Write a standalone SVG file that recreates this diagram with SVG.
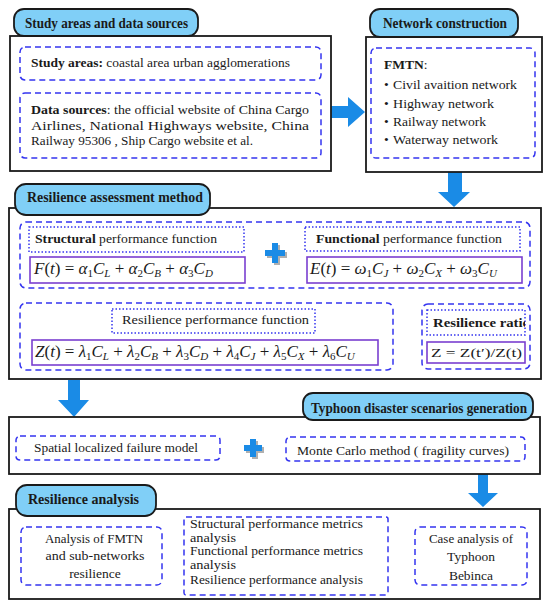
<svg xmlns="http://www.w3.org/2000/svg" width="550" height="609" viewBox="0 0 550 609">
<defs>
<style>
.box{fill:#fff;stroke:#1a1a1a;stroke-width:1.8}
.tab{fill:#80cff7;stroke:#1a1a1a;stroke-width:1.8}
.dash{fill:#fff;stroke:#3535f0;stroke-width:1.5;stroke-dasharray:6 4}
.dot{fill:#fff;stroke:#3535f0;stroke-width:1.5;stroke-dasharray:1.5 2}
.frm{fill:#fff;stroke:#7a3fd0;stroke-width:1.6}
.arr{fill:#1a8be6}
.plus{fill:#1a8be6}
.plush{fill:#b0b0b0}
text{font-family:"Liberation Serif","DejaVu Serif",serif;fill:#1a1a1a}
.t{font-size:13.5px}
.tm{font-size:12px}
.h{font-size:14px;font-weight:bold}
.b{font-weight:bold}
.m{font-size:17px}
.i{font-style:italic}
.s{font-size:11px}
</style>
<clipPath id="clipRatio"><rect x="427" y="310" width="98" height="25"/></clipPath>
</defs>

<g id="connectors">
<polygon class="arr" points="331,106 348,106 348,97 365,112 348,127 348,118 331,118"/>
<polygon class="arr" points="448,172 462,172 462,192 470,192 454,207 438,192 448,192"/>
<polygon class="arr" points="202,289 209,289 209,294 214,294 205,302 196,294 202,294"/>
<polygon class="arr" points="399,332 410,332 410,327 420,336.5 410,346 410,341 399,341"/>
<polygon class="arr" points="68,380 80,380 80,400 89,400 74,417 58,400 68,400"/>
<polygon class="arr" points="478,474 488,474 488,493 498,493 483,507 468,493 478,493"/>
<polygon class="arr" points="162,552 172,552 172,546 182,556 172,566 172,560 162,560"/>
<polygon class="arr" points="417,551 405,551 405,546 395,555.5 405,565 405,560 417,560"/>
</g>

<g id="study-areas-data-sources">
<rect class="box" x="10" y="36" width="321" height="135"/>
<rect class="tab" x="14" y="9" width="184" height="27" rx="10"/>
<text class="h" x="25" y="28" textLength="163" lengthAdjust="spacingAndGlyphs">Study areas and data sources</text>
<rect class="dash" x="20" y="47" width="301" height="33" rx="5"/>
<text class="t" x="31" y="67" textLength="259" lengthAdjust="spacingAndGlyphs"><tspan class="b">Study areas:</tspan> coastal area urban agglomerations</text>
<rect class="dash" x="20" y="93" width="301" height="65" rx="5"/>
<text class="t" x="31" y="114" textLength="278" lengthAdjust="spacingAndGlyphs"><tspan class="b">Data sources</tspan>: the official website of China Cargo</text>
<text class="t" x="31" y="130" textLength="278" lengthAdjust="spacingAndGlyphs">Airlines, National Highways website, China</text>
<text class="t" x="31" y="145" textLength="222" lengthAdjust="spacingAndGlyphs">Railway 95306 , Ship Cargo website et al.</text>
</g>

<g id="network-construction">
<rect class="box" x="366" y="37" width="176" height="135"/>
<rect class="tab" x="370" y="9" width="148" height="28" rx="10"/>
<text class="h" x="383" y="28" textLength="124" lengthAdjust="spacingAndGlyphs">Network construction</text>
<rect class="dash" x="371" y="48" width="164" height="110" rx="5"/>
<text class="t" x="384" y="69"><tspan class="b">FMTN</tspan>:</text>
<text class="t" x="384" y="89">•</text>
<text class="t" x="393" y="89" textLength="124" lengthAdjust="spacingAndGlyphs">Civil avaition network</text>
<text class="t" x="384" y="108">•</text>
<text class="t" x="393" y="108" textLength="101" lengthAdjust="spacingAndGlyphs">Highway network</text>
<text class="t" x="384" y="126">•</text>
<text class="t" x="393" y="126" textLength="93" lengthAdjust="spacingAndGlyphs">Railway network</text>
<text class="t" x="384" y="144">•</text>
<text class="t" x="393" y="144" textLength="105" lengthAdjust="spacingAndGlyphs">Waterway network</text>
</g>

<g id="resilience-assessment-method">
<rect class="box" x="9" y="208" width="532" height="171"/>
<rect class="tab" x="15" y="184" width="195" height="31" rx="11"/>
<text class="h" x="27" y="202" textLength="176" lengthAdjust="spacingAndGlyphs">Resilience assessment method</text>
</g>

<g id="structural-functional">
<rect class="dash" x="20" y="222" width="510" height="66" rx="6"/>
</g>

<g id="structural-performance">
<rect class="dot" x="29" y="227" width="215" height="25"/>
<text class="t" x="35" y="243" textLength="182" lengthAdjust="spacingAndGlyphs"><tspan class="b">Structural</tspan> performance function</text>
<rect class="frm" x="30" y="257" width="215" height="26"/>
<text class="m" x="34" y="274"><tspan class="i">F</tspan>(<tspan class="i">t</tspan>) = <tspan class="i">α</tspan><tspan class="s" dy="3">1</tspan><tspan class="i" dy="-3">C</tspan><tspan class="s i" dy="3">L</tspan><tspan dy="-3"> + </tspan><tspan class="i">α</tspan><tspan class="s" dy="3">2</tspan><tspan class="i" dy="-3">C</tspan><tspan class="s i" dy="3">B</tspan><tspan dy="-3"> + </tspan><tspan class="i">α</tspan><tspan class="s" dy="3">3</tspan><tspan class="i" dy="-3">C</tspan><tspan class="s i" dy="3">D</tspan></text>
</g>

<g id="plus-1">
<path class="plush" d="M267,252h7v-7h6v7h7v6h-7v7h-6v-7h-7z"/>
<path class="plus" d="M265,250h7v-7h6v7h7v6h-7v7h-6v-7h-7z"/>
</g>

<g id="functional-performance">
<rect class="dot" x="305" y="227" width="215" height="24"/>
<text class="t" x="316" y="243" textLength="186" lengthAdjust="spacingAndGlyphs"><tspan class="b">Functional</tspan> performance function</text>
<rect class="frm" x="307" y="257" width="215" height="26"/>
<text class="m" x="310" y="274"><tspan class="i">E</tspan>(<tspan class="i">t</tspan>) = <tspan class="i">ω</tspan><tspan class="s" dy="3">1</tspan><tspan class="i" dy="-3">C</tspan><tspan class="s i" dy="3">J</tspan><tspan dy="-3"> + </tspan><tspan class="i">ω</tspan><tspan class="s" dy="3">2</tspan><tspan class="i" dy="-3">C</tspan><tspan class="s i" dy="3">X</tspan><tspan dy="-3"> + </tspan><tspan class="i">ω</tspan><tspan class="s" dy="3">3</tspan><tspan class="i" dy="-3">C</tspan><tspan class="s i" dy="3">U</tspan></text>
</g>

<g id="resilience-performance">
<rect class="dash" x="20" y="303" width="373" height="67" rx="6"/>
<rect class="dot" x="112" y="309" width="203" height="24"/>
<text class="t" x="122" y="324" textLength="187" lengthAdjust="spacingAndGlyphs">Resilience performance function</text>
<rect class="frm" x="32" y="340" width="346" height="25"/>
<text class="m" x="35" y="357"><tspan class="i">Z</tspan>(<tspan class="i">t</tspan>) = <tspan class="i">λ</tspan><tspan class="s" dy="3">1</tspan><tspan class="i" dy="-3">C</tspan><tspan class="s i" dy="3">L</tspan><tspan dy="-3"> + </tspan><tspan class="i">λ</tspan><tspan class="s" dy="3">2</tspan><tspan class="i" dy="-3">C</tspan><tspan class="s i" dy="3">B</tspan><tspan dy="-3"> + </tspan><tspan class="i">λ</tspan><tspan class="s" dy="3">3</tspan><tspan class="i" dy="-3">C</tspan><tspan class="s i" dy="3">D</tspan><tspan dy="-3"> + </tspan><tspan class="i">λ</tspan><tspan class="s" dy="3">4</tspan><tspan class="i" dy="-3">C</tspan><tspan class="s i" dy="3">J</tspan><tspan dy="-3"> + </tspan><tspan class="i">λ</tspan><tspan class="s" dy="3">5</tspan><tspan class="i" dy="-3">C</tspan><tspan class="s i" dy="3">X</tspan><tspan dy="-3"> + </tspan><tspan class="i">λ</tspan><tspan class="s" dy="3">6</tspan><tspan class="i" dy="-3">C</tspan><tspan class="s i" dy="3">U</tspan></text>
</g>

<g id="resilience-ratio">
<rect class="dash" x="422" y="304" width="108" height="65" rx="6"/>
<rect class="dot" x="427" y="310" width="98" height="25"/>
<text class="t b" x="433" y="327" clip-path="url(#clipRatio)" textLength="97" lengthAdjust="spacingAndGlyphs">Resilience ratio</text>
<rect class="frm" x="427" y="342" width="98" height="21"/>
<text class="t" x="431" y="357" textLength="91" lengthAdjust="spacingAndGlyphs">Z = Z(t′)/Z(t)</text>
</g>

<g id="typhoon-scenarios">
<rect class="box" x="9" y="417" width="531" height="57"/>
<rect class="tab" x="303" y="393" width="230" height="27" rx="10"/>
<text class="h" x="311" y="413" textLength="216" lengthAdjust="spacingAndGlyphs">Typhoon disaster scenarios generation</text>
</g>

<g id="spatial-failure-model">
<rect class="dash" x="16" y="436" width="204" height="24" rx="4"/>
<text class="t" x="34" y="452" textLength="164" lengthAdjust="spacingAndGlyphs">Spatial localized failure model</text>
</g>

<g id="plus-2">
<path class="plush" d="M246,447h6v-6h6v6h6v6h-6v6h-6v-6h-6z"/>
<path class="plus" d="M244,445h6v-6h6v6h6v6h-6v6h-6v-6h-6z"/>
</g>

<g id="monte-carlo">
<rect class="dash" x="286" y="437" width="239" height="24" rx="4"/>
<text class="t" x="297" y="455" textLength="212" lengthAdjust="spacingAndGlyphs">Monte Carlo method ( fragility curves)</text>
</g>

<g id="resilience-analysis">
<rect class="box" x="9" y="509" width="531" height="90"/>
<rect class="tab" x="16" y="485" width="140" height="31" rx="11"/>
<text class="h" x="28" y="504" textLength="111" lengthAdjust="spacingAndGlyphs">Resilience analysis</text>
</g>

<g id="fmtn-analysis">
<rect class="dash" x="21" y="527" width="141" height="58" rx="5"/>
<text class="t" x="94" y="543" text-anchor="middle" textLength="98" lengthAdjust="spacingAndGlyphs">Analysis of FMTN</text>
<text class="t" x="95" y="560" text-anchor="middle" textLength="99" lengthAdjust="spacingAndGlyphs">and sub-networks</text>
<text class="t" x="95" y="578" text-anchor="middle">resilience</text>
</g>

<g id="metrics-analysis">
<rect class="dash" x="184" y="517" width="204" height="78" rx="2"/>
<text class="tm" x="190" y="528" textLength="173" lengthAdjust="spacingAndGlyphs">Structural performance metrics</text>
<text class="tm" x="190" y="541.5" textLength="46" lengthAdjust="spacingAndGlyphs">analysis</text>
<text class="tm" x="190" y="555" textLength="173" lengthAdjust="spacingAndGlyphs">Functional performance metrics</text>
<text class="tm" x="190" y="568.5" textLength="46" lengthAdjust="spacingAndGlyphs">analysis</text>
<text class="tm" x="190" y="584" textLength="173" lengthAdjust="spacingAndGlyphs">Resilience performance analysis</text>
</g>

<g id="case-analysis">
<rect class="dash" x="415" y="527" width="112" height="58" rx="5"/>
<text class="t" x="471" y="543" text-anchor="middle" textLength="84" lengthAdjust="spacingAndGlyphs">Case analysis of</text>
<text class="t" x="471" y="561" text-anchor="middle">Typhoon</text>
<text class="t" x="471" y="580" text-anchor="middle">Bebinca</text>
</g>
</svg>
